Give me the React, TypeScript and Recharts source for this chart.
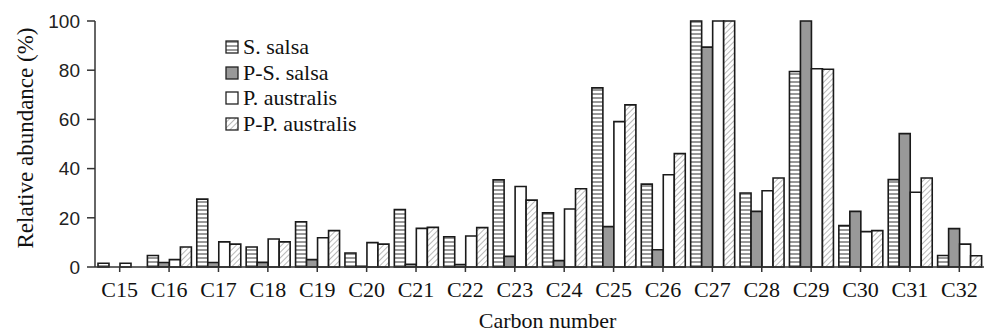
import React from 'react';
import { BarChart, Bar, XAxis, YAxis, Legend } from 'recharts';

const categories = ['C15', 'C16', 'C17', 'C18', 'C19', 'C20', 'C21', 'C22', 'C23', 'C24', 'C25', 'C26', 'C27', 'C28', 'C29', 'C30', 'C31', 'C32'];
const sSalsa = [1.5, 4.7, 27.6, 8.1, 18.4, 5.7, 23.4, 12.3, 35.4, 22.0, 72.8, 33.7, 100, 30.1, 79.5, 16.8, 35.5, 4.7];
const pSSalsa = [0, 1.8, 1.8, 1.9, 3.0, 0.3, 1.1, 1.0, 4.3, 2.6, 16.4, 7.0, 89.4, 22.6, 100, 22.6, 54.2, 15.6];
const pAustralis = [1.5, 3.0, 10.2, 11.4, 11.9, 9.9, 15.7, 12.6, 32.7, 23.6, 59.1, 37.5, 100, 31.0, 80.6, 14.4, 30.4, 9.3];
const ppAustralis = [0, 8.1, 9.3, 10.2, 14.8, 9.3, 16.1, 16.0, 27.2, 31.8, 65.9, 46.1, 100, 36.2, 80.4, 14.8, 36.2, 4.6];
const yTicks = [0, 20, 40, 60, 80, 100];

const series = [
  { key: 'sSalsa', name: 'S. salsa', fill: 'url(#stripes)' },
  { key: 'pSSalsa', name: 'P-S. salsa', fill: '#999999' },
  { key: 'pAustralis', name: 'P. australis', fill: '#ffffff' },
  { key: 'ppAustralis', name: 'P-P. australis', fill: 'url(#hatch)' },
];

const data = categories.map((name, i) => ({
  name,
  sSalsa: sSalsa[i],
  pSSalsa: pSSalsa[i],
  pAustralis: pAustralis[i],
  ppAustralis: ppAustralis[i],
}));

const serif = '"Liberation Serif", "Times New Roman", serif';
const sans = '"Liberation Sans", Arial, sans-serif';

// patterns live in their own svg, ids are global to the page
const Patterns = () => (
  <svg width={0} height={0} style={{ position: 'absolute' }}>
    <defs>
      <pattern id="stripes" patternUnits="userSpaceOnUse" width={4} height={4}>
        <rect width={4} height={4} fill="#ffffff" />
        <line x1={0} y1={2} x2={4} y2={2} stroke="#333" strokeWidth={1} />
      </pattern>
      <pattern id="hatch" patternUnits="userSpaceOnUse" width={4} height={4} patternTransform="rotate(45)">
        <rect width={4} height={4} fill="#ffffff" />
        <line x1={0} y1={0} x2={0} y2={4} stroke="#8a8a8a" strokeWidth={1.2} />
      </pattern>
    </defs>
  </svg>
);

const LegendBox = () => (
  <div style={{ fontFamily: serif, fontSize: 22, color: '#111', lineHeight: '25.7px' }}>
    {series.map((s) => (
      <div key={s.key} style={{ display: 'flex', alignItems: 'center' }}>
        <svg width={14} height={14} style={{ marginRight: 4 }}>
          <rect x={1} y={1} width={12} height={12} fill={s.fill} stroke="#222" strokeWidth={1.3} />
        </svg>
        <span>{s.name}</span>
      </div>
    ))}
  </div>
);

const YLabel = (props: any) => {
  const vb = props.viewBox;
  const cy = vb.y + vb.height / 2 - 6;
  return (
    <text x={25} y={cy} transform={`rotate(-90, 25, ${cy})`} textAnchor="middle" dominantBaseline="central"
      style={{ fontFamily: serif, fontSize: 23, fill: '#111' }}>
      Relative abundance (%)
    </text>
  );
};

const XLabel = (props: any) => {
  const vb = props.viewBox;
  return (
    <text x={vb.x + vb.width / 2 + 8} y={vb.y + 53} textAnchor="middle" dominantBaseline="central"
      style={{ fontFamily: serif, fontSize: 22, fill: '#111' }}>
      Carbon number
    </text>
  );
};

export default function App() {
  return (
    <div style={{ position: 'absolute', left: 0, top: 0, width: 984, height: 332, background: '#fff' }}>
      <Patterns />
      <BarChart
        width={984}
        height={332}
        data={data}
        margin={{ top: 21, right: 0, bottom: 0, left: 0 }}
        barCategoryGap={3}
        barGap={0}
      >
        <XAxis
          dataKey="name"
          height={65}
          interval={0}
          tickSize={5}
          tickMargin={9}
          axisLine={{ stroke: '#333', strokeWidth: 1.5 }}
          tickLine={{ stroke: '#333', strokeWidth: 1.5 }}
          tick={{ fontFamily: serif, fontSize: 22, fill: '#111' }}
          label={<XLabel />}
        />
        <YAxis
          width={95}
          domain={[0, 100]}
          ticks={yTicks}
          interval={0}
          tickSize={8}
          tickMargin={7}
          axisLine={{ stroke: '#333', strokeWidth: 1.5 }}
          tickLine={{ stroke: '#333', strokeWidth: 1.5 }}
          tick={{ fontFamily: sans, fontSize: 19, fill: '#222' }}
          label={<YLabel />}
        />
        <Legend
          content={<LegendBox />}
          layout="vertical"
          verticalAlign="middle"
          align="center"
          wrapperStyle={{ left: 225, top: 34, width: 200 }}
        />
        {series.map((s) => (
          <Bar
            key={s.key}
            dataKey={s.key}
            name={s.name}
            fill={s.fill}
            stroke="#1a1a1a"
            strokeWidth={1.6}
            isAnimationActive={false}
          />
        ))}
      </BarChart>
    </div>
  );
}
